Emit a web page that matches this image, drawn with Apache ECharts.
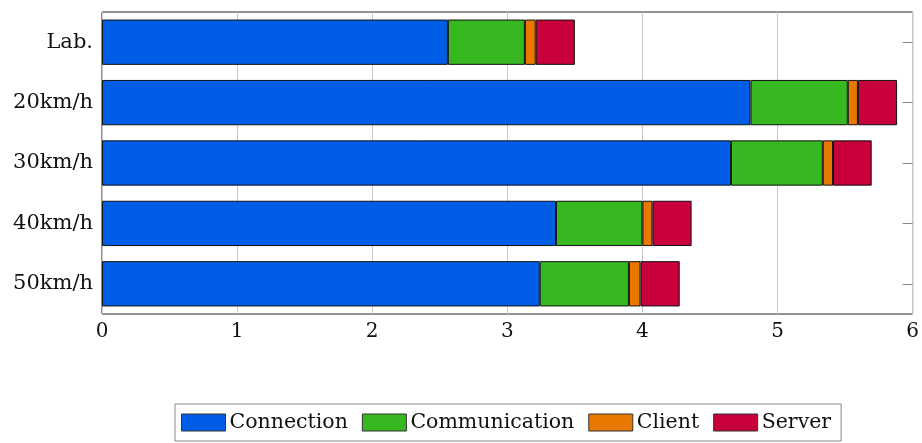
<!DOCTYPE html>
<html>
<head>
<meta charset="utf-8">
<script src="https://cdn.jsdelivr.net/npm/echarts@6/dist/echarts.min.js"></script>
<style>
  html, body { margin: 0; padding: 0; background: #fff; }
  #main { width: 922px; height: 443px; }
</style>
</head>
<body>
<div id="main"></div>
<script>
// categories (top to bottom)
const categories = ['Lab.', '20km/h', '30km/h', '40km/h', '50km/h'];
// stacked time components
const connection    = [2.56, 4.80, 4.655, 3.36, 3.24];
const communication = [0.57, 0.72, 0.68, 0.64, 0.66];
const client        = [0.08, 0.075, 0.076, 0.074, 0.086];
const server        = [0.29, 0.29, 0.286, 0.29, 0.29];

const seriesNames = ['Connection', 'Communication', 'Client', 'Server'];
const seriesData = [connection, communication, client, server];
const colors = ['#005ee6', '#38b820', '#e87800', '#c8003c'];

const font = 'DejaVu Serif';

var myChart = echarts.init(document.getElementById('main'));

let option = {
  animation: false,
  textStyle: { fontFamily: font },
  grid: {
    left: 102,
    right: 8,
    top: 12,
    bottom: 129,
    show: true,
    borderColor: '#222',
    borderWidth: 1
  },
  legend: {
    bottom: 2,
    left: 175,
    icon: 'rect',
    itemWidth: 44,
    itemHeight: 17,
    itemGap: 14,
    padding: [8, 10, 8, 6],
    borderColor: '#888',
    borderWidth: 1,
    itemStyle: { borderColor: '#333', borderWidth: 1 },
    textStyle: { fontFamily: font, fontSize: 20.5, color: '#111', padding: [0, 0, 0, -1] },
    data: seriesNames
  },
  xAxis: {
    type: 'value',
    min: 0,
    max: 6,
    interval: 1,
    axisLine: { show: false },
    axisTick: { show: false },
    axisLabel: { fontFamily: font, fontSize: 20, color: '#111', margin: 8 },
    splitLine: { show: true, lineStyle: { color: '#c8c8c8', width: 1 } }
  },
  yAxis: [
    {
      type: 'category',
      data: categories,
      inverse: true,
      position: 'left',
      axisLine: { show: false },
      axisTick: { show: true, inside: true, length: 10, alignWithLabel: true, lineStyle: { color: '#888' } },
      axisLabel: { fontFamily: font, fontSize: 21, color: '#111', margin: 9 },
      splitLine: { show: false }
    },
    {
      type: 'category',
      data: categories,
      inverse: true,
      position: 'right',
      axisLine: { show: false },
      axisTick: { show: true, inside: true, length: 10, alignWithLabel: true, lineStyle: { color: '#888' } },
      axisLabel: { show: false },
      splitLine: { show: false }
    }
  ],
  series: seriesNames.map((name, i) => ({
    name: name,
    type: 'bar',
    stack: 'total',
    yAxisIndex: 0,
    barCategoryGap: '25%',
    itemStyle: { color: colors[i], borderColor: '#111', borderWidth: 1 },
    data: seriesData[i]
  }))
};

myChart.setOption(option);
</script>
</body>
</html>
